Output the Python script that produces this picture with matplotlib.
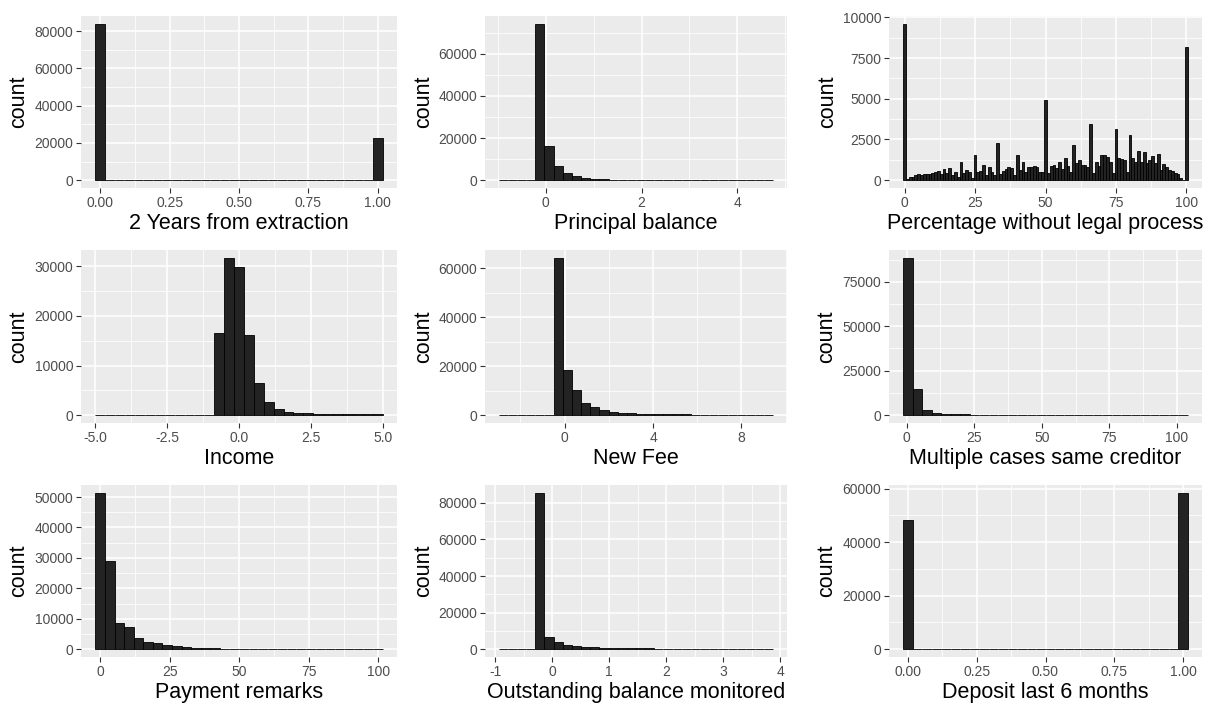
import numpy as np
import matplotlib.pyplot as plt

plt.rcParams['font.family'] = ['Liberation Sans', 'DejaVu Sans']

# ---- data: histogram bin counts ----
# each panel: first bin edge, bin width, counts per bin
years_start, years_w = -1 / 58, 1 / 29
years_counts = [84000] + [0] * 28 + [22600]

principal_start, principal_w = -0.98, 0.191
principal_counts = [0, 0, 0, 0, 74200, 16300, 6700, 3400, 1800, 1150, 650, 350,
                    200, 120, 80, 50, 30, 20, 15, 10, 10, 5, 5, 5, 5, 5, 5, 5, 5, 5]

pct_start, pct_w = -0.5, 1.0
pct_counts = [9600, 80, 200, 200, 290, 350, 310, 350, 350, 350, 420, 480, 560, 350, 700,
              420, 770, 290, 500, 200, 1130, 420, 620, 500, 150, 1540, 500, 560, 940, 290,
              830, 500, 290, 2290, 350, 560, 700, 790, 770, 290, 1540, 620, 1130, 500, 830,
              830, 850, 830, 480, 480, 4930, 460, 850, 920, 770, 1120, 670, 1390, 890, 480,
              2160, 1040, 1250, 960, 960, 830, 3470, 420, 1120, 890, 1540, 1540, 1400, 1120, 420,
              3140, 1390, 1310, 1250, 480, 2790, 1390, 1120, 1810, 1120, 1750, 1080, 1250, 1460, 1080,
              1600, 620, 980, 830, 620, 560, 420, 350, 150, 40, 8200]

income_start, income_w = -5.0, 10 / 29
income_counts = [0] * 12 + [16640, 31700, 29870, 16230, 6480, 2650, 1260, 600, 420, 380,
                            200, 180, 170, 160, 150, 150, 150]

fee_start, fee_w = -2.98, 0.414
fee_counts = [0, 0, 0, 0, 0, 0, 64300, 18400, 10200, 5100, 3200, 1900, 1400, 900, 700,
              400, 400, 350, 300, 300, 300, 250, 250, 20, 15, 10, 10, 5, 5, 5]

cases_start, cases_w = -1.27, 3.51
cases_counts = [88500, 14600, 2650, 1300, 750, 600, 500] + [0] * 23

remarks_start, remarks_w = -1.67, 3.44
remarks_counts = [51400, 29100, 8570, 7140, 3630, 2420, 1980, 1430, 1210, 880, 550, 440, 440] + [0] * 17

outst_start, outst_w = -0.94, 0.1607
outst_counts = [0, 0, 0, 0, 85500, 6800, 3700, 2500, 1800, 1300, 1100, 700, 600, 550,
                500, 500, 450, 0, 0, 0, 0, 0, 0, 0, 0, 0, 0, 0, 0, 0]

deposit_start, deposit_w = -1 / 58, 1 / 29
deposit_counts = [48400] + [0] * 28 + [58400]

panels = [
    ("2 Years from extraction", years_start, years_w, years_counts,
     [0, 0.25, 0.5, 0.75, 1.0], ["0.00", "0.25", "0.50", "0.75", "1.00"], [0, 20000, 40000, 60000, 80000]),
    ("Principal balance", principal_start, principal_w, principal_counts,
     [0, 2, 4], ["0", "2", "4"], [0, 20000, 40000, 60000]),
    ("Percentage without legal process", pct_start, pct_w, pct_counts,
     [0, 25, 50, 75, 100], ["0", "25", "50", "75", "100"], [0, 2500, 5000, 7500, 10000]),
    ("Income", income_start, income_w, income_counts,
     [-5, -2.5, 0, 2.5, 5], ["-5.0", "-2.5", "0.0", "2.5", "5.0"], [0, 10000, 20000, 30000]),
    ("New Fee", fee_start, fee_w, fee_counts,
     [0, 4, 8], ["0", "4", "8"], [0, 20000, 40000, 60000]),
    ("Multiple cases same creditor", cases_start, cases_w, cases_counts,
     [0, 25, 50, 75, 100], ["0", "25", "50", "75", "100"], [0, 25000, 50000, 75000]),
    ("Payment remarks", remarks_start, remarks_w, remarks_counts,
     [0, 25, 50, 75, 100], ["0", "25", "50", "75", "100"], [0, 10000, 20000, 30000, 40000, 50000]),
    ("Outstanding balance monitored", outst_start, outst_w, outst_counts,
     [-1, 0, 1, 2, 3, 4], ["-1", "0", "1", "2", "3", "4"], [0, 20000, 40000, 60000, 80000]),
    ("Deposit last 6 months", deposit_start, deposit_w, deposit_counts,
     [0, 0.25, 0.5, 0.75, 1.0], ["0.00", "0.25", "0.50", "0.75", "1.00"], [0, 20000, 40000, 60000]),
]

W, H = 1209, 704
col_lr = [(81, 397), (485, 787), (889, 1202)]
row_tb = [(16, 188), (250, 423), (485, 657)]


def minor_breaks(major, lim):
    b = list(major)
    d = b[1] - b[0]
    b = [b[0] - d] + b + [b[-1] + d]
    mids = [(b[i] + b[i + 1]) / 2 for i in range(len(b) - 1)]
    return [m for m in mids if lim[0] <= m <= lim[1]]


fig = plt.figure(figsize=(W / 100, H / 100), dpi=100)

for i, (label, start, w, counts, xt, xtl, yt) in enumerate(panels):
    l, r = col_lr[i % 3]
    t, b = row_tb[i // 3]
    ax = fig.add_axes([l / W, 1 - b / H, (r - l) / W, (b - t) / H])
    ax.set_facecolor('#EBEBEB')
    for s in ax.spines.values():
        s.set_visible(False)

    edges = start + w * np.arange(len(counts) + 1)
    ax.bar(edges[:-1], counts, width=w, align='edge', color='#232323',
           edgecolor='black', linewidth=0.6, zorder=3)

    x0, x1 = edges[0], edges[-1]
    xr = x1 - x0
    xlim = (x0 - 0.05 * xr, x1 + 0.05 * xr)
    ymax = max(counts)
    ylim = (-0.05 * ymax, 1.05 * ymax)
    ax.set_xlim(xlim)
    ax.set_ylim(ylim)

    for m in minor_breaks(xt, xlim):
        ax.axvline(m, color='white', lw=0.55, zorder=1)
    for m in minor_breaks(yt, ylim):
        ax.axhline(m, color='white', lw=0.55, zorder=1)
    for m in xt:
        ax.axvline(m, color='white', lw=1.1, zorder=1)
    for m in yt:
        ax.axhline(m, color='white', lw=1.1, zorder=1)

    ax.set_xticks(xt)
    ax.set_xticklabels(xtl)
    ax.set_yticks(yt)
    ax.set_yticklabels([str(v) for v in yt])
    ax.tick_params(length=3.5, width=0.8, color='#333333', labelcolor='#4D4D4D',
                   labelsize=10, pad=2)
    ax.set_xlabel(label, fontsize=15.5, labelpad=2.5)
    ax.set_ylabel("count", fontsize=15.5, labelpad=3.5)

fig.savefig("out.png", dpi=100)
